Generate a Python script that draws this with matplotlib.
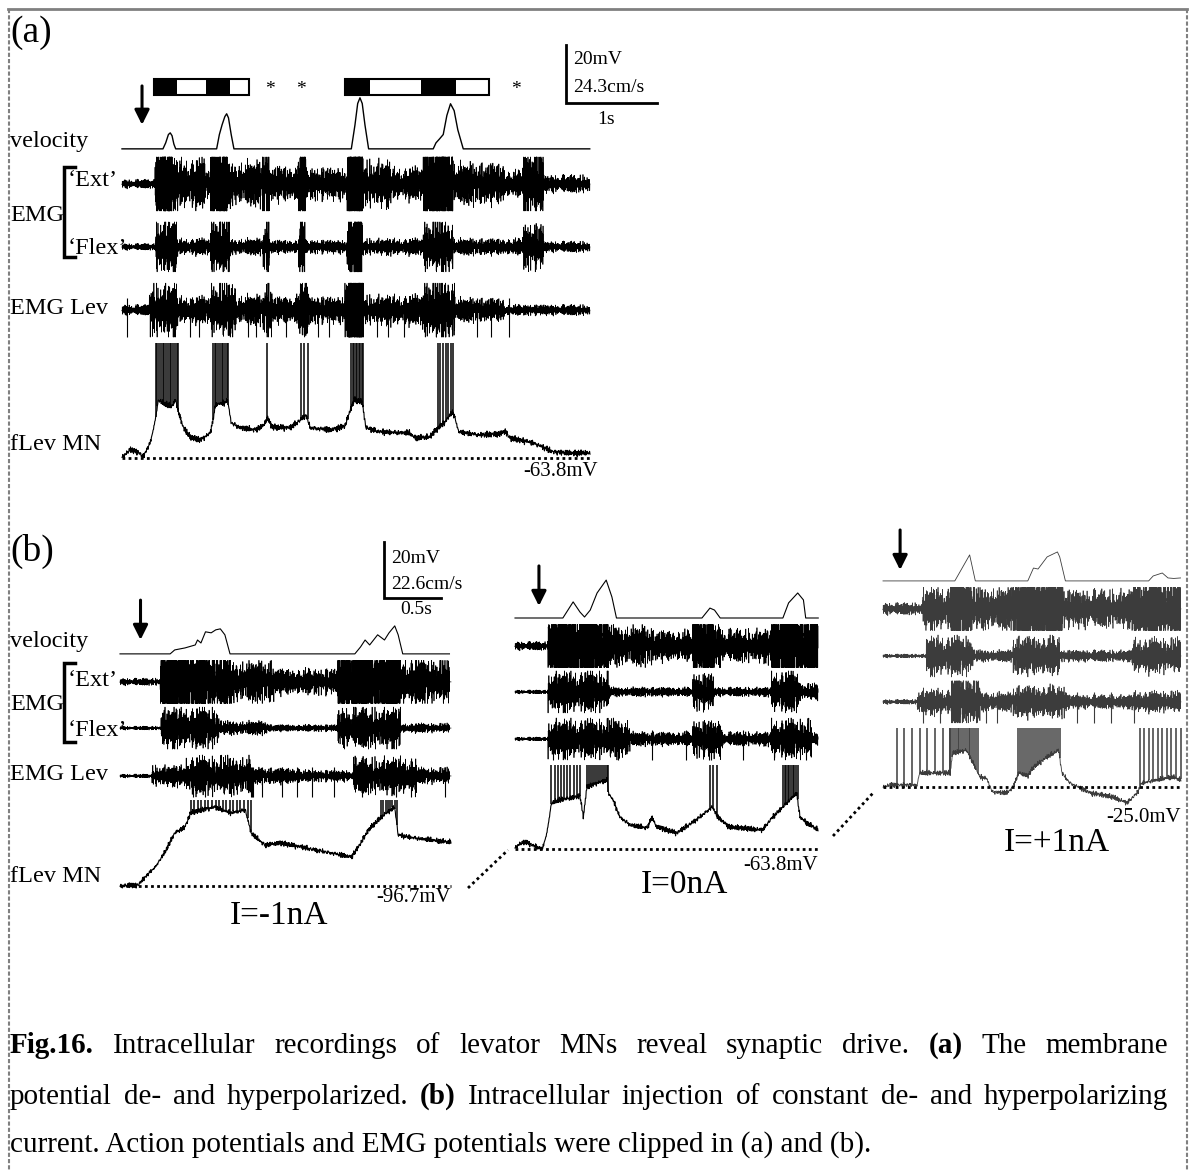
import numpy as np
import matplotlib
matplotlib.use('Agg')
import matplotlib.pyplot as plt
from matplotlib.patches import Rectangle
from matplotlib.lines import Line2D

plt.rcParams['font.family'] = ['Liberation Serif', 'DejaVu Serif']

W, H = 1192, 1171
fig = plt.figure(figsize=(W / 100, H / 100), dpi=100)


def fx(x):
    return x / W


def fy(y):
    return 1 - y / H


# irregular texture used for EMG noise and membrane ripple
JIT_A = np.array([0.12, -0.55, 0.83, -0.21, 0.34, -0.97, 0.08, 0.61, -0.42, 0.27,
                  -0.73, 0.95, -0.15, 0.49, -0.66, 0.19, -0.31, 0.88, -0.52, 0.04,
                  0.71, -0.86, 0.38, -0.09, 0.57, -0.44, 0.23, -0.78, 0.64, -0.18,
                  0.92, -0.36, 0.14, -0.61, 0.45, -0.99, 0.29, -0.05, 0.76, -0.48,
                  0.11, -0.69, 0.53, -0.25, 0.81, -0.58, 0.33])
JIT_B = np.array([-0.4, 0.7, -0.2, 0.9, -0.8, 0.1, 0.5, -0.6, 0.3, -1.0, 0.6,
                  -0.3, 0.8, -0.5, 0.2, -0.9, 0.4, -0.1, 0.7, -0.7, 1.0, -0.2,
                  0.1, -0.6, 0.9, -0.4, 0.3, -0.8, 0.5, 0.0, -0.3])

# ---------------- panel (a) ----------------
A_VEL = [(0, 0), (0.45, 0), (0.48, 2.5), (0.51, 6.0), (0.53, 6.7), (0.55, 5.5), (0.57, 2.0), (0.59, 0),
         (1.04, 0), (1.07, 6.0), (1.10, 10.1), (1.13, 13.5), (1.15, 14.7), (1.17, 13.0), (1.20, 6.0), (1.23, 0),
         (2.52, 0), (2.56, 10.0), (2.59, 19.0), (2.615, 21.4), (2.64, 19.0), (2.67, 10.0), (2.71, 0),
         (3.42, 0), (3.45, 2.5), (3.49, 4.2), (3.53, 6.0), (3.57, 14.0), (3.61, 18.9), (3.65, 16.0),
         (3.69, 8.0), (3.75, 0), (5.14, 0)]
A_EXT = [(0, 0.36, 0.15), (0.36, 0.55, 2.2), (0.55, 0.91, 0.85), (0.91, 0.97, 0.5), (0.97, 1.16, 2.2),
         (1.16, 1.54, 0.75), (1.54, 1.63, 1.6), (1.63, 1.93, 0.6), (1.93, 2.02, 1.6), (2.02, 2.47, 0.55),
         (2.47, 2.65, 2.2), (2.65, 2.95, 0.8), (2.95, 3.31, 0.55), (3.31, 3.64, 2.2), (3.64, 4.21, 0.7),
         (4.21, 4.40, 0.45), (4.40, 4.63, 1.3), (4.63, 5.14, 0.3)]
A_FLEX = [(0, 0.37, 0.12), (0.37, 0.60, 1.1), (0.60, 0.97, 0.3), (0.97, 1.18, 1.2), (1.18, 1.55, 0.3),
          (1.55, 1.62, 1.1), (1.62, 1.94, 0.25), (1.94, 2.01, 1.2), (2.01, 2.47, 0.25), (2.47, 2.64, 1.4),
          (2.64, 3.31, 0.3), (3.31, 3.64, 1.0), (3.64, 4.40, 0.3), (4.40, 4.63, 0.85), (4.63, 5.14, 0.2)]
A_LEV = [(0, 0.30, 0.18), (0.30, 0.60, 0.95), (0.60, 0.97, 0.45), (0.97, 1.25, 0.95), (1.25, 1.55, 0.5),
         (1.55, 1.65, 1.0), (1.65, 1.92, 0.45), (1.92, 2.06, 1.0), (2.06, 2.45, 0.45), (2.45, 2.66, 2.0),
         (2.66, 3.30, 0.5), (3.30, 3.66, 1.1), (3.66, 4.20, 0.4), (4.20, 5.14, 0.18)]
A_LEV_SPIKES = [0.05, 0.75, 0.85, 1.38, 1.47, 1.80, 2.15, 2.28, 2.80, 2.92, 3.10, 3.90, 4.05, 4.25]
A_MN = [(0, 0.3), (0.09, 2.8), (0.18, 2.1), (0.23, 0.3), (0.31, 5.2), (0.36, 12.1), (0.40, 20.0),
        (0.47, 18.6), (0.55, 17.9), (0.59, 20.0), (0.62, 16.0), (0.67, 10.7), (0.75, 7.2), (0.86, 6.2),
        (0.97, 8.6), (1.00, 13.1), (1.03, 18.6), (1.13, 19.0), (1.16, 20.0), (1.20, 12.1), (1.30, 10.4),
        (1.46, 9.7), (1.55, 11.0), (1.60, 13.8), (1.65, 10.7), (1.85, 10.4), (1.96, 13.1), (2.02, 14.8),
        (2.07, 10.4), (2.29, 9.7), (2.45, 11.0), (2.51, 16.6), (2.55, 20.0), (2.64, 19.3), (2.68, 10.4),
        (2.84, 9.0), (3.16, 8.6), (3.22, 6.9), (3.38, 7.2), (3.45, 9.7), (3.55, 12.4), (3.63, 15.9),
        (3.66, 13.8), (3.70, 9.0), (3.93, 7.9), (4.15, 8.3), (4.21, 9.3), (4.26, 6.9), (4.52, 5.2),
        (4.74, 2.1), (4.92, 1.7), (5.14, 1.7)]
A_MN_BURSTS = [(0.37, 0.62, 14), (1.00, 1.17, 10), (1.59, 1.59, 1), (1.97, 2.04, 3), (2.52, 2.65, 9),
               (3.47, 3.64, 7)]
A_STIM = [[(0.35, 0.60, 'k'), (0.60, 0.92, 'w'), (0.92, 1.19, 'k'), (1.19, 1.40, 'w')],
          [(2.45, 2.73, 'k'), (2.73, 3.29, 'w'), (3.29, 3.67, 'k'), (3.67, 4.03, 'w')]]
A_STARS = [1.63, 1.97, 4.33]

# ---------------- panel (b) ----------------
B1_VEL = [(0, 0), (0.44, 0), (0.48, 1.6), (0.57, 2.4), (0.66, 3.6), (0.68, 5.6), (0.71, 4.4), (0.75, 8.9),
          (0.80, 8.5), (0.84, 9.7), (0.88, 10.1), (0.92, 7.7), (0.965, 0), (2.06, 0), (2.11, 2.8),
          (2.15, 5.6), (2.19, 3.6), (2.26, 7.7), (2.32, 5.6), (2.36, 8.5), (2.41, 11.3), (2.44, 7.7),
          (2.48, 0), (2.89, 0)]
B1_EXT = [(0, 0.35, 0.15), (0.35, 0.62, 2.2), (0.62, 0.97, 1.6), (0.97, 1.35, 0.9), (1.35, 1.91, 0.55),
          (1.91, 2.46, 2.2), (2.46, 2.89, 1.0)]
B1_FLEX = [(0, 0.36, 0.08), (0.36, 0.87, 0.9), (0.87, 1.30, 0.3), (1.30, 1.91, 0.15), (1.91, 2.46, 0.9),
           (2.46, 2.89, 0.2)]
B1_LEV = [(0, 0.28, 0.08), (0.28, 0.58, 0.45), (0.58, 1.15, 0.85), (1.15, 1.60, 0.35), (1.60, 2.05, 0.25),
          (2.05, 2.60, 0.8), (2.60, 2.89, 0.35)]
B1_LEV_SPIKES = [0.64, 0.75, 1.15, 1.16, 1.17, 1.25, 1.42, 1.55, 1.68, 1.88, 2.12, 2.42, 2.55, 2.85]
B1_MN = [(0, 0), (0.16, 0.4), (0.22, 3.2), (0.31, 6.8), (0.39, 11.8), (0.48, 18.9), (0.57, 21.1),
         (0.62, 26.1), (0.71, 27.1), (0.83, 28.2), (0.97, 26.1), (1.10, 27.1), (1.15, 18.9), (1.27, 14.6),
         (1.41, 15.4), (1.71, 12.9), (2.03, 10.4), (2.09, 13.9), (2.18, 20.0), (2.29, 24.6), (2.41, 28.2),
         (2.44, 18.2), (2.59, 17.1), (2.88, 15.7)]
B1_MN_BURSTS = [(0.62, 1.15, 18), (2.29, 2.43, 8)]

B2_VEL = [(0, 0), (0.42, 0), (0.51, 6.5), (0.57, 2.4), (0.61, 0.4), (0.66, 3.2), (0.72, 10.1), (0.80, 15.3),
          (0.85, 8.5), (0.89, 0), (1.64, 0), (1.71, 4.0), (1.75, 3.2), (1.80, 0), (2.35, 0), (2.40, 6.1),
          (2.48, 10.1), (2.53, 7.3), (2.55, 0), (2.66, 0)]
B2_EXT = [(0, 0.29, 0.18), (0.29, 0.83, 2.0), (0.83, 1.20, 0.85), (1.20, 1.56, 0.65), (1.56, 1.74, 2.0),
          (1.74, 1.82, 1.0), (1.82, 2.25, 0.7), (2.25, 2.66, 2.0)]
B2_FLEX = [(0, 0.29, 0.08), (0.29, 0.83, 0.9), (0.83, 1.56, 0.2), (1.56, 1.74, 0.8), (1.74, 2.25, 0.2),
           (2.25, 2.50, 0.9), (2.50, 2.66, 0.35)]
B2_LEV = [(0, 0.29, 0.08), (0.29, 1.01, 0.85), (1.01, 1.56, 0.3), (1.56, 1.82, 0.8), (1.82, 2.25, 0.3),
          (2.25, 2.60, 0.85), (2.60, 2.66, 0.25)]
B2_LEV_SPIKES = [0.33, 0.90, 1.20, 1.50, 1.70, 1.72, 2.00, 2.27, 2.55]
B2_MN = [(0, 0.4), (0.04, 1.8), (0.10, 2.5), (0.15, 1.4), (0.24, 0), (0.28, 5.7), (0.32, 16.4), (0.39, 17.5),
         (0.48, 18.2), (0.57, 18.9), (0.60, 11.4), (0.63, 22.1), (0.72, 23.6), (0.81, 24.6), (0.82, 20.0),
         (0.86, 17.5), (0.92, 11.4), (1.01, 8.6), (1.16, 7.5), (1.20, 11.4), (1.24, 8.0), (1.42, 5.7),
         (1.59, 10.4), (1.73, 15.0), (1.78, 11.4), (1.88, 7.9), (2.17, 6.8), (2.26, 11.4), (2.35, 15.0),
         (2.47, 20.0), (2.50, 11.4), (2.56, 9.3), (2.66, 6.8)]
B2_MN_BURSTS = [(0.32, 0.57, 10), (0.63, 0.82, 12), (1.71, 1.77, 3), (2.35, 2.48, 10)]

B3_VEL = [(0, 0), (0.63, 0), (0.76, 10.5), (0.81, 0), (1.27, 0), (1.32, 5.2), (1.36, 4.8), (1.44, 9.7),
          (1.53, 11.7), (1.55, 9.7), (1.60, 0), (2.33, 0), (2.37, 2.0), (2.45, 3.2), (2.50, 1.2),
          (2.55, 1.0), (2.61, 1.2)]
B3_EXT = [(0, 0.35, 0.25), (0.35, 0.59, 0.9), (0.59, 0.78, 2.0), (0.78, 1.13, 0.9), (1.13, 1.58, 2.0),
          (1.58, 2.19, 0.8), (2.19, 2.61, 1.6)]
B3_FLEX = [(0, 0.38, 0.08), (0.38, 0.79, 0.85), (0.79, 1.14, 0.25), (1.14, 1.55, 0.85), (1.55, 2.19, 0.25),
           (2.19, 2.61, 0.75)]
B3_LEV = [(0, 0.30, 0.1), (0.30, 0.60, 0.55), (0.60, 0.85, 1.2), (0.85, 1.14, 0.4), (1.14, 1.62, 0.7),
          (1.62, 2.19, 0.3), (2.19, 2.61, 0.45)]
B3_LEV_SPIKES = [0.35, 0.50, 0.90, 1.00, 1.70, 1.85, 2.00, 2.20]
B3_MN = [(0, 0), (0.06, 0.7), (0.30, 0.7), (0.32, 5.0), (0.59, 5.0), (0.61, 12.1), (0.73, 13.2), (0.79, 8.6),
         (0.85, 3.6), (0.91, 3.0), (0.96, -1.8), (1.09, -2.1), (1.14, 0), (1.19, 5.0), (1.27, 4.0),
         (1.32, 7.1), (1.44, 10.7), (1.54, 13.2), (1.57, 5.0), (1.64, 1.4), (1.82, -2.1), (2.02, -3.6),
         (2.14, -5.7), (2.23, -2.1), (2.27, 1.4), (2.40, 2.5), (2.54, 3.6), (2.61, 2.5)]
B3_MN_BURSTS = [(0.12, 0.59, 8), (0.59, 0.83, 16), (1.18, 1.55, 22), (2.25, 2.61, 10)]


def make_panel(x0, x1, y_base, px_s, px_mv, y_top, y_bot):
    ax = fig.add_axes([fx(x0), fy(y_bot), (x1 - x0) / W, (y_bot - y_top) / H])
    ax.set_xlim(0, (x1 - x0) / px_s)
    ax.set_ylim((y_base - y_bot) / px_mv, (y_base - y_top) / px_mv)
    ax.axis('off')
    return ax


def texture(n):
    i = np.arange(n)
    return (JIT_A[i % len(JIT_A)] + 0.45 * JIT_B[i % len(JIT_B)]) / 1.1


def velocity(ax, knots, offset, gain, color='k', lw=1.0):
    kt, kv = zip(*knots)
    ax.plot(kt, offset + gain * np.array(kv), color=color, lw=lw, clip_on=False)


def emg(ax, t, offset, clip, segments, spikes=(), color='k', lw=0.5):
    env = np.zeros_like(t)
    for t0, t1, a in segments:
        env[(t >= t0) & (t <= t1)] = a
    y = np.clip(env * clip * texture(t.size), -clip, clip)
    ax.plot(t, offset + y, color=color, lw=lw, clip_on=False)
    if len(spikes):
        ax.vlines(spikes, offset - clip, offset + 0.45 * clip, color=color, lw=0.8, clip_on=False)


def membrane(ax, t, knots, ripple, bursts, clip, color='k', lw=0.8):
    kt, kv = zip(*knots)
    v = np.interp(t, kt, kv) + ripple * texture(t.size)
    ax.plot(t, v, color=color, lw=lw, clip_on=False)
    for t0, t1, n in bursts:
        st = np.linspace(t0, t1, n)
        ax.vlines(st, np.interp(st, t, v), clip, color=color, lw=1.1, clip_on=False)
    ax.plot([0, t[-1]], [0, 0], color='k', lw=2.0, ls=(0, (1, 1.2)), clip_on=False)


def arrow(ax, t, top, tip):
    ax.annotate('', xy=(t, tip), xytext=(t, top), annotation_clip=False,
                arrowprops=dict(arrowstyle='-|>', color='k', lw=2.2, mutation_scale=22,
                                shrinkA=0, shrinkB=0))


def scale_bar(ax, t, y0, dt, dy):
    ax.plot([t, t, t + dt], [y0 + dy, y0, y0], color='k', lw=2.0, clip_on=False,
            solid_joinstyle='miter')


def label(x, y, s, size, ha='left', va='center', weight='normal'):
    fig.text(fx(x), fy(y), s, fontsize=size, ha=ha, va=va, weight=weight)


def bracket(x, y0, y1):
    fig.add_artist(Line2D([fx(x + 11), fx(x), fx(x), fx(x + 11)], [fy(y0), fy(y0), fy(y1), fy(y1)],
                          color='k', lw=2.5, solid_joinstyle='miter'))


# panel (a): 91 px per s, 2.9 px per mV
ax_a = make_panel(122, 590, 458, 91, 2.9, 30, 480)
ta = np.linspace(0, 468 / 91, 3200)
ta_mn = np.linspace(0, 468 / 91, 1100)
velocity(ax_a, A_VEL, 106.6, 20 / 24.3)
emg(ax_a, ta, 94.5, 9.3, A_EXT)
emg(ax_a, ta, 72.8, 8.6, A_FLEX)
emg(ax_a, ta, 51.0, 9.3, A_LEV, A_LEV_SPIKES)
membrane(ax_a, ta_mn, A_MN, 1.0, A_MN_BURSTS, 39.7)
arrow(ax_a, 0.22, 128.3, 114.9)
for bar in A_STIM:
    for t0, t1, c in bar:
        ax_a.add_patch(Rectangle((t0, 125.2), t1 - t0, 5.5, facecolor=c, edgecolor='none', clip_on=False))
    ax_a.add_patch(Rectangle((bar[0][0], 125.2), bar[-1][1] - bar[0][0], 5.5, facecolor='none',
                             edgecolor='k', lw=1.5, clip_on=False))
for s in A_STARS:
    ax_a.text(s, 127.0, '*', ha='center', va='center', fontsize=14)
scale_bar(ax_a, 4.88, 122.4, 1.0, 20)

# panel (b): 114 px per s, 2.8 px per mV
ax_b1 = make_panel(120, 451, 886, 114, 2.8, 530, 900)
ax_b2 = make_panel(515, 818, 849, 114, 2.8, 530, 900)
ax_b3 = make_panel(883, 1181, 787, 114, 2.8, 500, 860)
for ax, x0, x1, base, vel, ext, flex, lev, lsp, mn, mb, clip, offs, col, lw in [
        (ax_b1, 120, 451, 886, B1_VEL, B1_EXT, B1_FLEX, B1_LEV, B1_LEV_SPIKES, B1_MN, B1_MN_BURSTS, 30.7,
         (82.9, 72.9, 56.4, 39.3), 'k', 0.8),
        (ax_b2, 515, 818, 849, B2_VEL, B2_EXT, B2_FLEX, B2_LEV, B2_LEV_SPIKES, B2_MN, B2_MN_BURSTS, 30.0,
         (82.5, 72.5, 56.1, 39.3), 'k', 0.8),
        (ax_b3, 883, 1181, 787, B3_VEL, B3_EXT, B3_FLEX, B3_LEV, B3_LEV_SPIKES, B3_MN, B3_MN_BURSTS, 21.1,
         (73.6, 63.6, 46.8, 30.4), '#3c3c3c', 0.6)]:
    tb = np.linspace(0, (x1 - x0) / 114, 2200)
    tb_mn = np.linspace(0, (x1 - x0) / 114, 720)
    velocity(ax, vel, offs[0], 20 / 22.6, color=col, lw=lw)
    emg(ax, tb, offs[1], 7.7, ext, color=col, lw=0.5)
    emg(ax, tb, offs[2], 7.5, flex, color=col, lw=0.5)
    emg(ax, tb, offs[3], 7.5, lev, lsp, color=col, lw=0.5)
    membrane(ax, tb_mn, mn, 0.9, mb, clip, color=col, lw=lw)

arrow(ax_b1, 0.18, 102.1, 87.9)
arrow(ax_b2, 0.21, 101.1, 86.8)
arrow(ax_b3, 0.15, 91.8, 77.5)
scale_bar(ax_b1, 2.32, 102.9, 0.5, 20)

# dotted links between the three (b) recordings
for (xa, ya), (xb, yb) in [((468, 888), (508, 850)), ((833, 836), (874, 792))]:
    fig.add_artist(Line2D([fx(xa), fx(xb)], [fy(ya), fy(yb)], color='k', lw=2.0, ls=(0, (1, 1.2))))

# panel letters, channel names and scale texts
label(10, 33, '(a)', 27)
label(10, 551, '(b)', 27)
for y_vel, y_ext, y_emg, y_flex, y_lev, y_mn, br in [(141, 180, 216, 248, 309, 444, (167, 257)),
                                                     (642, 680, 705, 730, 774, 877, (663, 742))]:
    label(10, y_vel, 'velocity', 17.5)
    label(68, y_ext, '\u2018Ext\u2019', 17.5)
    label(10, y_emg, 'EMG', 17.5)
    label(68, y_flex, '\u2018Flex\u2019', 17.5)
    label(10, y_lev, 'EMG Lev', 17.5)
    label(10, y_mn, 'fLev MN', 17.5)
    bracket(64, *br)

label(573, 60, '20mV', 14)
label(573, 88, '24.3cm/s', 14)
label(606, 119, '1s', 14, ha='center')
label(391, 559, '20mV', 14)
label(391, 585, '22.6cm/s', 14)
label(416, 609, '0.5s', 14, ha='center')

label(598, 471, '-63.8mV', 15, ha='right')
label(451, 898, '-96.7mV', 15, ha='right')
label(818, 865, '-63.8mV', 15, ha='right')
label(1181, 818, '-25.0mV', 15, ha='right')
label(279, 916, 'I=-1nA', 24, ha='center')
label(684, 885, 'I=0nA', 24, ha='center')
label(1057, 843, 'I=+1nA', 24, ha='center')

# caption, first two lines justified
CAP_SIZE = 21
CAP_LINES = [
    [('Fig.16.', 'bold'), ('Intracellular', 'normal'), ('recordings', 'normal'), ('of', 'normal'),
     ('levator', 'normal'), ('MNs', 'normal'), ('reveal', 'normal'), ('synaptic', 'normal'),
     ('drive.', 'normal'), ('(a)', 'bold'), ('The', 'normal'), ('membrane', 'normal')],
    [('potential', 'normal'), ('de-', 'normal'), ('and', 'normal'), ('hyperpolarized.', 'normal'),
     ('(b)', 'bold'), ('Intracellular', 'normal'), ('injection', 'normal'), ('of', 'normal'),
     ('constant', 'normal'), ('de-', 'normal'), ('and', 'normal'), ('hyperpolarizing', 'normal')],
]
CAP_LAST = 'current. Action potentials and EMG potentials were clipped in (a) and (b).'
renderer = fig.canvas.get_renderer()
left, right = 10, 1168
for words, y in zip(CAP_LINES, [1053, 1104]):
    items = [fig.text(0, fy(y), w, fontsize=CAP_SIZE, weight=wt, va='baseline') for w, wt in words]
    widths = [it.get_window_extent(renderer).width for it in items]
    gap = (right - left - sum(widths)) / (len(items) - 1)
    x = left
    for it, w in zip(items, widths):
        it.set_x(fx(x))
        x += w + gap
fig.text(fx(left), fy(1152), CAP_LAST, fontsize=CAP_SIZE, va='baseline')

# frame around the figure
fig.add_artist(Line2D([fx(8), fx(1187)], [fy(9), fy(9)], color='#808080', lw=2))
for xb in (9, 1187):
    fig.add_artist(Line2D([fx(xb), fx(xb)], [fy(9), fy(1171)], color='#808080', lw=1.5, ls=(0, (2, 1))))

fig.savefig('out.png', dpi=100)
